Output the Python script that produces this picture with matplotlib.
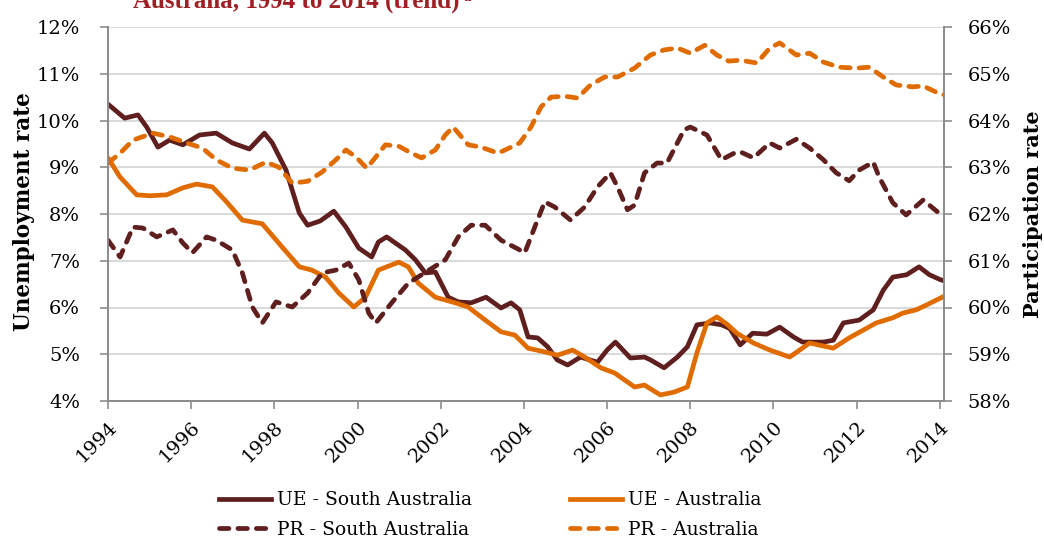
import numpy as np
import matplotlib
matplotlib.use("Agg")
import matplotlib.pyplot as plt
from matplotlib.lines import Line2D

# values (decimal years)
ue_sa_x = [1994.0, 1994.4, 1994.72, 1994.93, 1995.2, 1995.48, 1995.8, 1996.2, 1996.6, 1996.99,
           1997.4, 1997.76, 1997.95, 1998.28, 1998.6, 1998.8, 1999.1, 1999.43, 1999.72, 2000.03,
           2000.34, 2000.5, 2000.7, 2001.15, 2001.39, 2001.63, 2001.87, 2002.18, 2002.42, 2002.73,
           2003.09, 2003.45, 2003.69, 2003.9, 2004.1, 2004.33, 2004.57, 2004.8, 2005.05, 2005.36,
           2005.77, 2006.0, 2006.2, 2006.56, 2006.9, 2007.04, 2007.37, 2007.69, 2007.93, 2008.16,
           2008.48, 2008.75, 2008.95, 2009.2, 2009.5, 2009.84, 2010.15, 2010.48, 2010.7, 2011.2,
           2011.44, 2011.68, 2012.06, 2012.4, 2012.64, 2012.87, 2013.2, 2013.5, 2013.75, 2014.0,
           2014.1]
ue_sa = [10.35, 10.05, 10.12, 9.86, 9.43, 9.58, 9.48, 9.69, 9.73, 9.52,
         9.39, 9.73, 9.52, 8.94, 8.02, 7.76, 7.85, 8.06, 7.72, 7.27,
         7.08, 7.4, 7.51, 7.23, 7.02, 6.74, 6.76, 6.22, 6.12, 6.1,
         6.22, 5.99, 6.1, 5.95, 5.37, 5.35, 5.16, 4.88, 4.77, 4.94,
         4.83, 5.09, 5.26, 4.92, 4.94, 4.88, 4.71, 4.94, 5.16, 5.63,
         5.67, 5.63, 5.55, 5.2, 5.45, 5.43, 5.58, 5.37, 5.26, 5.26,
         5.3, 5.67, 5.73, 5.95, 6.37, 6.65, 6.7, 6.87, 6.7, 6.6,
         6.57]

ue_au_x = [1994.0, 1994.29, 1994.69, 1995.0, 1995.41, 1995.8, 1996.13, 1996.51, 1996.85, 1997.23,
           1997.71, 1998.19, 1998.6, 1998.9, 1999.23, 1999.55, 1999.91, 2000.19, 2000.5, 2000.99,
           2001.22, 2001.46, 2001.87, 2002.35, 2002.66, 2003.07, 2003.45, 2003.78, 2004.1, 2004.5,
           2004.81, 2005.17, 2005.46, 2005.85, 2006.18, 2006.66, 2006.9, 2007.28, 2007.61, 2007.93,
           2008.16, 2008.4, 2008.64, 2008.9, 2009.12, 2009.52, 2009.91, 2010.39, 2010.87, 2011.44,
           2011.82, 2012.47, 2012.87, 2013.11, 2013.43, 2013.67, 2014.1]
ue_au = [9.2, 8.79, 8.41, 8.39, 8.41, 8.56, 8.64, 8.58, 8.26, 7.87,
         7.79, 7.29, 6.87, 6.8, 6.65, 6.31, 6.01, 6.22, 6.8, 6.97,
         6.87, 6.52, 6.22, 6.1, 6.01, 5.73, 5.48, 5.41, 5.13, 5.05,
         4.98, 5.09, 4.94, 4.71, 4.6, 4.3, 4.34, 4.13, 4.19, 4.3,
         5.03, 5.67, 5.8, 5.63, 5.45, 5.24, 5.09, 4.94, 5.24, 5.13,
         5.35, 5.67, 5.78, 5.88, 5.95, 6.05, 6.24]

pr_sa_x = [1994.0, 1994.29, 1994.6, 1994.84, 1995.17, 1995.56, 1995.8, 1996.03, 1996.37, 1996.6,
           1996.99, 1997.23, 1997.47, 1997.71, 1998.04, 1998.43, 1998.8, 1999.15, 1999.48, 1999.79,
           2000.03, 2000.27, 2000.44, 2000.82, 2001.22, 2001.54, 2002.11, 2002.42, 2002.73, 2003.07,
           2003.45, 2003.86, 2004.02, 2004.26, 2004.5, 2004.74, 2005.12, 2005.46, 2005.77, 2006.08,
           2006.25, 2006.49, 2006.66, 2006.9, 2007.2, 2007.44, 2007.85, 2008.0, 2008.4, 2008.75,
           2009.05, 2009.2, 2009.52, 2009.91, 2010.15, 2010.55, 2010.87, 2011.2, 2011.51, 2011.82,
           2012.06, 2012.4, 2012.54, 2012.87, 2013.19, 2013.6, 2013.95, 2014.1]
pr_sa = [61.44, 61.08, 61.72, 61.7, 61.51, 61.66, 61.38, 61.17, 61.51, 61.44,
         61.23, 60.74, 60.01, 59.67, 60.12, 60.01, 60.31, 60.74, 60.8, 60.95,
         60.59, 59.88, 59.67, 60.1, 60.52, 60.7, 61.02, 61.51, 61.76, 61.76,
         61.44, 61.25, 61.17, 61.72, 62.26, 62.15, 61.87, 62.15, 62.58, 62.88,
         62.58, 62.09, 62.19, 62.88, 63.09, 63.09, 63.8, 63.86, 63.69, 63.16,
         63.3, 63.33, 63.2, 63.52, 63.41, 63.6, 63.41, 63.16, 62.88, 62.71,
         62.94, 63.11, 62.79, 62.24, 61.98, 62.3, 62.04, 62.0]

pr_au_x = [1994.0, 1994.29, 1994.6, 1995.08, 1995.48, 1995.89, 1996.27, 1996.6, 1996.99, 1997.4,
           1997.8, 1998.11, 1998.43, 1998.8, 1999.15, 1999.48, 1999.72, 1999.96, 2000.22, 2000.44,
           2000.67, 2000.99, 2001.3, 2001.54, 2001.87, 2002.11, 2002.3, 2002.66, 2002.97, 2003.38,
           2003.69, 2003.9, 2004.17, 2004.41, 2004.65, 2004.98, 2005.29, 2005.6, 2005.94, 2006.25,
           2006.66, 2007.04, 2007.37, 2007.69, 2008.0, 2008.35, 2008.64, 2008.92, 2009.2, 2009.6,
           2009.91, 2010.15, 2010.55, 2010.87, 2011.2, 2011.58, 2011.99, 2012.3, 2012.64, 2012.95,
           2013.35, 2013.6, 2013.95, 2014.1]
pr_au = [63.09, 63.3, 63.58, 63.73, 63.65, 63.52, 63.41, 63.16, 62.98, 62.94,
         63.11, 63.0, 62.66, 62.7, 62.9, 63.16, 63.37, 63.22, 62.98, 63.22,
         63.48, 63.45, 63.3, 63.2, 63.37, 63.69, 63.86, 63.48, 63.43, 63.3,
         63.43, 63.52, 63.86, 64.29, 64.5, 64.52, 64.48, 64.76, 64.93, 64.93,
         65.12, 65.4, 65.51, 65.55, 65.44, 65.61, 65.4, 65.27, 65.29, 65.23,
         65.55, 65.66, 65.4, 65.44, 65.25, 65.14, 65.12, 65.14, 64.93, 64.76,
         64.72, 64.74, 64.59, 64.55]

year_ticks = list(range(1994, 2015, 2))
ue_ticks = list(range(4, 13))
pr_ticks = list(range(58, 67))

dark = "#5f1f1f"
orange = "#e06c00"
grey = "#8c8c8c"
serif = "DejaVu Serif"
W, H = 1044, 541

fig = plt.figure(figsize=(W / 100, H / 100), dpi=100)
ax = fig.add_axes([108 / W, 1 - 401 / H, 836 / W, 374 / H])
ax2 = ax.twinx()

lw = 3.4
dash = (2.0, 1.9)
ax.plot(ue_sa_x, ue_sa, color=dark, lw=lw, solid_capstyle="round")
ax.plot(ue_au_x, ue_au, color=orange, lw=lw, solid_capstyle="round")
ax2.plot(pr_sa_x, pr_sa, color=dark, lw=lw, dashes=dash, dash_capstyle="round")
ax2.plot(pr_au_x, pr_au, color=orange, lw=lw, dashes=dash, dash_capstyle="round")

ax.set_xlim(1994, 2014.1)
ax.set_ylim(4, 12)
ax2.set_ylim(58, 66)
ax.set_yticks(ue_ticks)
ax.set_yticklabels([f"{v}%" for v in ue_ticks])
ax2.set_yticks(pr_ticks)
ax2.set_yticklabels([f"{v}%" for v in pr_ticks])
ax.set_xticks(year_ticks)
ax.set_xticklabels([str(y) for y in year_ticks], rotation=45, ha="right",
                   rotation_mode="anchor")

ax.grid(axis="y", color="#d9d9d9", lw=1.4)
ax.set_axisbelow(True)
for a in (ax, ax2):
    a.spines["top"].set_visible(False)
    for s in ("left", "right", "bottom"):
        a.spines[s].set_color(grey)
        a.spines[s].set_linewidth(1.3)
    a.tick_params(colors=grey, length=6, width=1.2, labelcolor="black",
                  labelsize=14)
    for lab in a.get_xticklabels() + a.get_yticklabels():
        lab.set_family(serif)
ax.tick_params(axis="y", pad=14)
ax.tick_params(axis="x", pad=6)
ax2.tick_params(axis="y", pad=11)

fig.text(24 / W, 1 - 212 / H, "Unemployment rate", family=serif, fontweight="bold",
         fontsize=15.5, rotation=90, ha="center", va="center")
fig.text(1033 / W, 1 - 214 / H, "Participation rate", family=serif, fontweight="bold",
         fontsize=15, rotation=90, ha="center", va="center")

title = fig.text(133 / W, 1 - 8 / H, "Australia, 1994 to 2014 (trend)",
                 family="Liberation Serif", fontweight="bold", fontsize=18,
                 color="#a01f24", va="baseline")
fig.text(463 / W, 1 - 1 / H, "a", family="Liberation Serif", fontweight="bold",
         fontsize=11, color="#a01f24", va="baseline")

handles = [
    Line2D([], [], color=dark, lw=lw),
    Line2D([], [], color=dark, lw=lw, dashes=dash, dash_capstyle="round"),
    Line2D([], [], color=orange, lw=lw),
    Line2D([], [], color=orange, lw=lw, dashes=dash, dash_capstyle="round"),
]
labels = ["UE - South Australia", "PR - South Australia", "UE - Australia", "PR - Australia"]
fig.legend(handles, labels, ncol=2, loc="center", bbox_to_anchor=(490 / W, 1 - 515 / H),
           frameon=False, prop={"family": serif, "size": 13.5}, handlelength=2.8,
           handletextpad=0.3, columnspacing=5.2, labelspacing=0.6)

fig.savefig("out.png", dpi=100)
